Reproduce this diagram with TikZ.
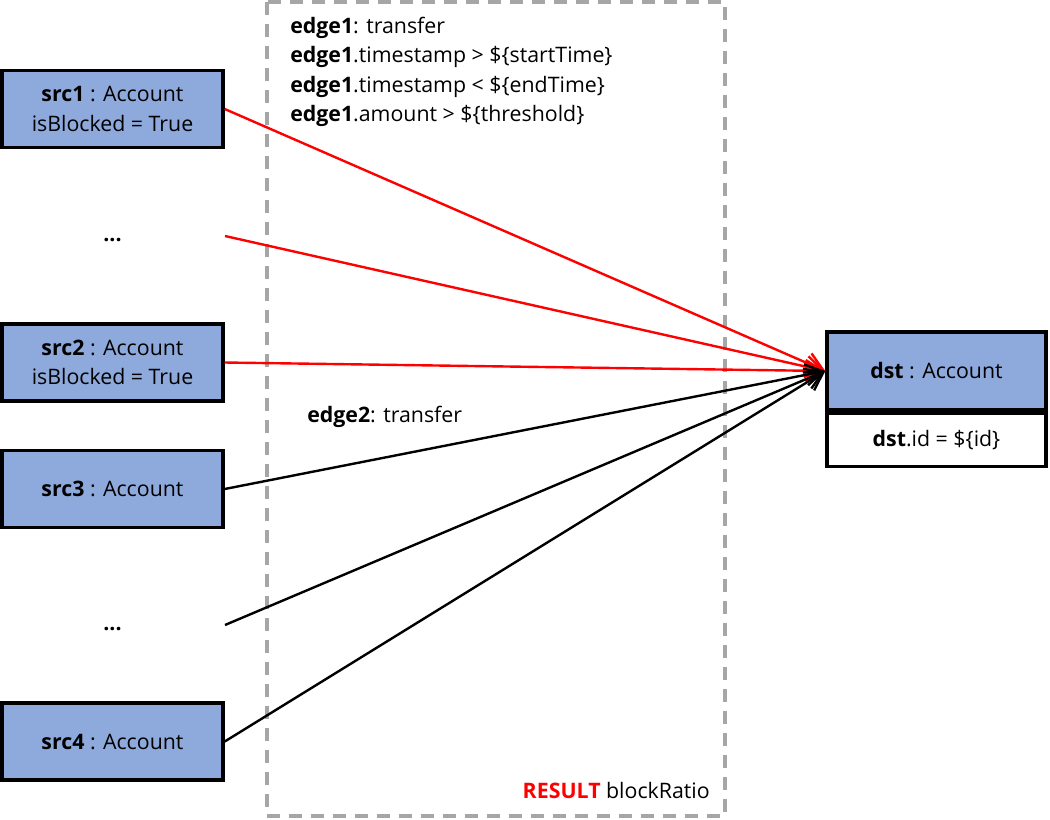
\documentclass[tikz,border=0pt]{standalone}
\usepackage{fontspec}
\setmainfont{Open Sans}
\usetikzlibrary{arrows.meta}
\definecolor{boxblue}{HTML}{8EA9DB}
\definecolor{dashgray}{HTML}{A6A6A6}
\definecolor{myred}{HTML}{FF0000}
\begin{document}
\begin{tikzpicture}[x=0.75pt,y=-0.75pt,
  every node/.style={font=\fontsize{16}{22}\selectfont, inner sep=0pt},
  srcbox/.style={draw=black, fill=boxblue, line width=2.6pt, minimum width=165.75pt, minimum height=58pt, align=center},
  dstbox/.style={draw=black, line width=2.6pt, minimum width=164.25pt, align=center},
  redarrow/.style={draw=myred, line width=1.8pt, -{Straight Barb[length=13pt,width=16pt,line width=1.8pt]}},
  blackarrow/.style={draw=black, line width=1.8pt, -{Straight Barb[length=13pt,width=16pt,line width=1.8pt]}},
  resultbox/.style={draw=dashgray, line width=2.4pt, dash pattern=on 9.75pt off 6.75pt}
]
\useasboundingbox (0,0) rectangle (1050,819);

% dashed result frame
\draw[resultbox] (267,2) rectangle (725,816);

% source nodes
\node[srcbox] (src1) at (112.5,109) {\textbf{src1} : Account\\isBlocked = True};
\node[anchor=base] (dots1) at (112.5,241) {\textbf{...}};
\node[srcbox] (src2) at (112.5,362.5) {\textbf{src2} : Account\\isBlocked = True};
\node[srcbox] (src3) at (112.5,489) {\textbf{src3} : Account};
\node[anchor=base] (dots2) at (112.5,630) {\textbf{...}};
\node[srcbox] (src4) at (112.5,741.5) {\textbf{src4} : Account};

\coordinate (d1s) at (225,236);
\coordinate (d2s) at (225,625);

% destination
\node[dstbox, fill=boxblue, minimum height=58.5pt] (dst) at (936.5,371) {\textbf{dst} : Account};
\node[dstbox, fill=white, minimum height=39.75pt, anchor=north] (dstid) at (dst.south) {\textbf{dst}.id = \$\{id\}};
\draw[line width=2.6pt] (dst.south west) -- (dst.south east);

% edges
\draw[redarrow] (src1.east) -- (dst.west);
\draw[redarrow] (d1s) -- (dst.west);
\draw[redarrow] (src2.east) -- (dst.west);
\draw[blackarrow] (src3.east) -- (dst.west);
\draw[blackarrow] (d2s) -- (dst.west);
\draw[blackarrow] (src4.east) -- (dst.west);

% labels
\node[anchor=base west] (l1) at (290,33) {\textbf{edge1}: transfer};
\node[anchor=base west] (l2) at (290,62) {\textbf{edge1}.timestamp > \$\{startTime\}};
\node[anchor=base west] (l3) at (290,92) {\textbf{edge1}.timestamp < \$\{endTime\}};
\node[anchor=base west] (l4) at (290,121) {\textbf{edge1}.amount > \$\{threshold\}};
\node[anchor=base west] (l5) at (307,422) {\textbf{edge2}: transfer};
\node[anchor=base east] (res) at (710,798) {\textcolor{myred}{\textbf{RESULT}} blockRatio};
\end{tikzpicture}
\end{document}
